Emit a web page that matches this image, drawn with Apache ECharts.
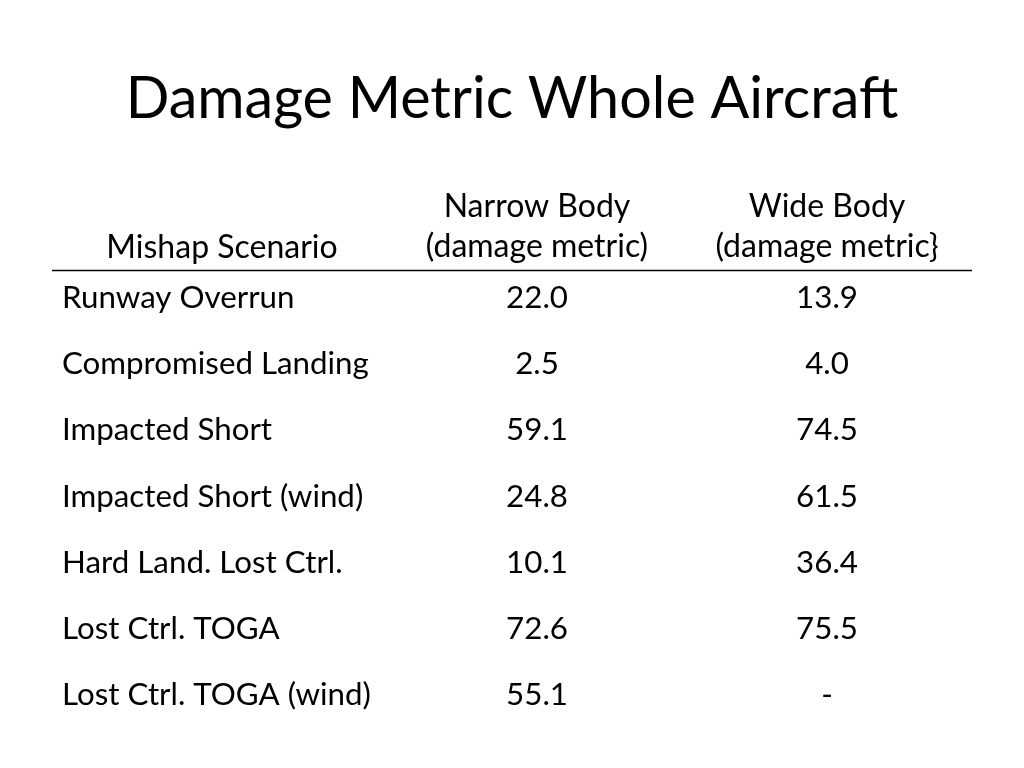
<!DOCTYPE html>
<html>
<head>
<meta charset="utf-8">
<script src="https://cdn.jsdelivr.net/npm/echarts@6/dist/echarts.min.js"></script>
<style>html,body{margin:0;padding:0;background:#fff}#c{width:1024px;height:768px}</style>
</head>
<body>
<div id="c"></div>
<script>
const titleText = 'Damage Metric Whole Aircraft';
const scenarioHeader = 'Mishap Scenario';
const columns = ['Narrow Body', 'Wide Body'];
const columnHeaders = ['Narrow Body\n(damage metric)', 'Wide Body\n(damage metric}'];
const scenarios = ['Runway Overrun', 'Compromised Landing', 'Impacted Short', 'Impacted Short (wind)', 'Hard Land. Lost Ctrl.', 'Lost Ctrl. TOGA', 'Lost Ctrl. TOGA (wind)'];
const narrowBody = [22.0, 2.5, 59.1, 24.8, 10.1, 72.6, 55.1];
const wideBody = [13.9, 4.0, 74.5, 61.5, 36.4, 75.5, null];

const FONT = 'Lato';
const FS = 31.3;
const HFS = 32;
const fmt = v => (v === null || v === undefined) ? '-' : v.toFixed(1);
const mkSeries = (col, vals) => ({
  type: 'scatter',
  symbolSize: 1,
  itemStyle: { color: 'rgba(0,0,0,0)', opacity: 1 },
  silent: true,
  data: vals.map((v, i) => [col, scenarios[i], v]),
  label: {
    show: true, position: 'inside', color: '#000', opacity: 1,
    fontFamily: FONT, fontSize: FS,
    formatter: p => fmt(p.value[2])
  },
  emphasis: { disabled: true }
});

const chart = echarts.init(document.getElementById('c'));
chart.setOption({
  backgroundColor: '#fff',
  animation: false,
  title: {
    text: titleText, left: 'center', top: 65,
    textStyle: { fontFamily: FONT, fontSize: 57.5, fontWeight: 'normal', color: '#000' }
  },
  grid: { left: 392, right: 52, top: 298, bottom: 73 },
  xAxis: {
    type: 'category', position: 'top', data: columns, boundaryGap: true,
    axisLine: { show: false }, axisTick: { show: false }, splitLine: { show: false },
    axisLabel: {
      interval: 0, hideOverlap: false,
      margin: 31, color: '#000', fontFamily: FONT, fontSize: HFS, lineHeight: 40,
      formatter: (v, i) => columnHeaders[i]
    }
  },
  yAxis: {
    type: 'category', inverse: true, boundaryGap: false, data: scenarios,
    axisLine: { show: false }, axisTick: { show: false }, splitLine: { show: false },
    axisLabel: { interval: 0, align: 'left', margin: 330, color: '#000', fontFamily: FONT, fontSize: FS }
  },
  graphic: [
    { type: 'line', shape: { x1: 52, y1: 270.5, x2: 972, y2: 270.5 }, style: { stroke: '#000', lineWidth: 1.5 } },
    { type: 'text', x: 222, y: 248, style: { text: scenarioHeader, fill: '#000', font: HFS + 'px ' + FONT, textAlign: 'center', textVerticalAlign: 'middle' } }
  ],
  series: [mkSeries(columns[0], narrowBody), mkSeries(columns[1], wideBody)]
});
</script>
</body>
</html>
